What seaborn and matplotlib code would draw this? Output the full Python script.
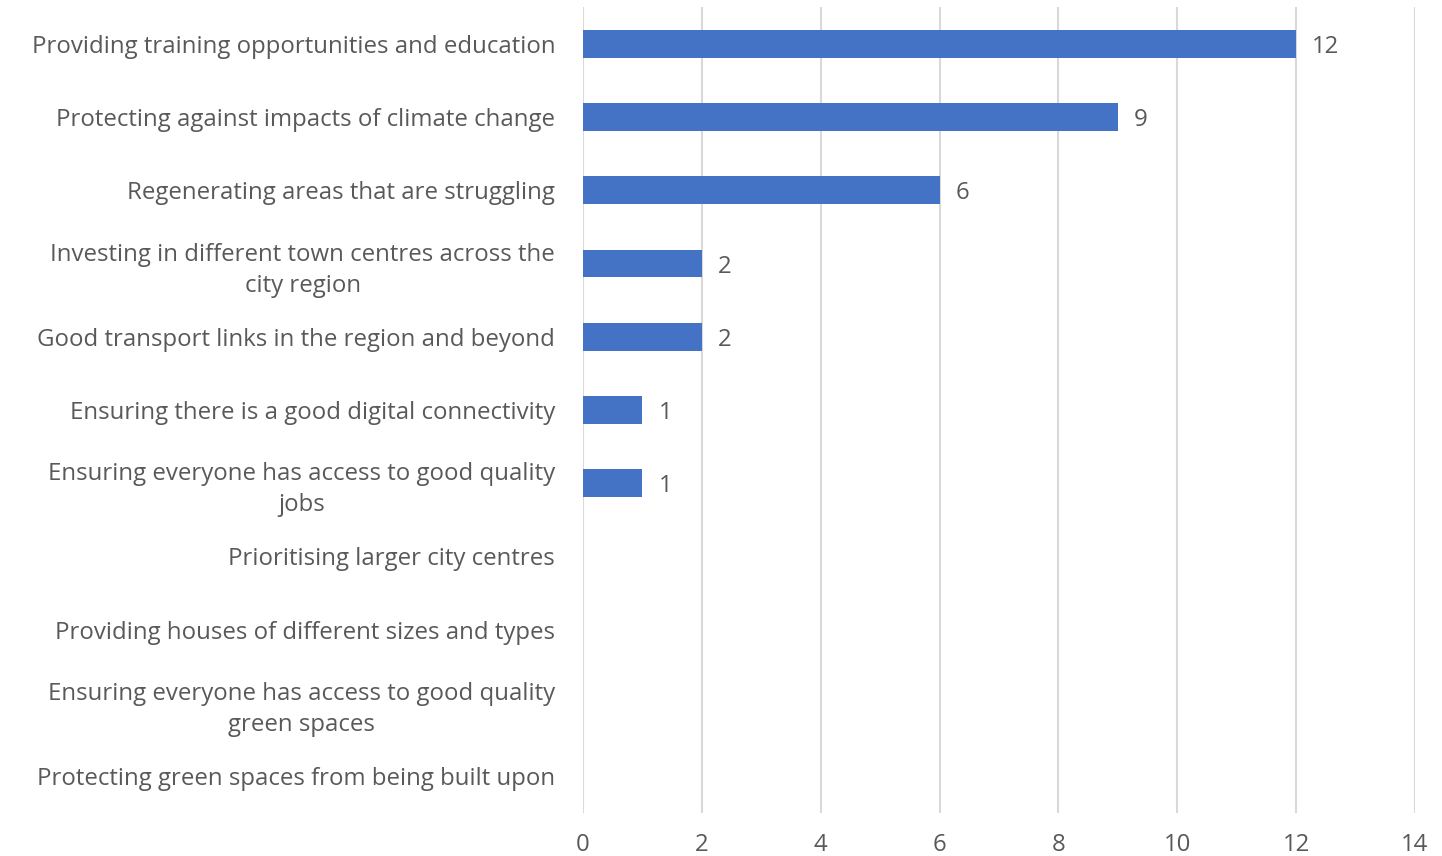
"""
Horizontal bar chart of priorities, counts per option.
"""

import pandas as pd
import seaborn as sns
import matplotlib.pyplot as plt

categories = [
    'Providing training opportunities and education',
    'Protecting against impacts of climate change',
    'Regenerating areas that are struggling',
    'Investing in different town centres across the\ncity region',
    'Good transport links in the region and beyond',
    'Ensuring there is a good digital connectivity',
    'Ensuring everyone has access to good quality\njobs',
    'Prioritising larger city centres',
    'Providing houses of different sizes and types',
    'Ensuring everyone has access to good quality\ngreen spaces',
    'Protecting green spaces from being built upon',
]
counts = [12, 9, 6, 2, 2, 1, 1, 0, 0, 0, 0]
x_ticks = [0, 2, 4, 6, 8, 10, 12, 14]

df = pd.DataFrame({'Option': categories, 'Count': counts})

sns.set_style('white')
plt.rcParams['font.family'] = ['Open Sans', 'DejaVu Sans']
text_color = '#595959'
fs = 17.3

fig = plt.figure(figsize=(14.42, 8.56), dpi=100)
ax = fig.add_axes([0.4043, 0.0507, 0.577, 0.9407])

sns.barplot(data=df, x='Count', y='Option', orient='h', color='#4472C4',
            width=0.38, saturation=1, linewidth=0, ax=ax, zorder=3)

ax.set_xlim(0, 14)
ax.set_xticks(x_ticks)
ax.grid(axis='x', color='#D9D9D9', linewidth=1.5, zorder=0)
ax.set_xlabel('')
ax.set_ylabel('')
for s in ax.spines.values():
    s.set_visible(False)
ax.tick_params(axis='both', length=0, colors=text_color, labelsize=fs)
ax.tick_params(axis='y', pad=20)
ax.tick_params(axis='x', pad=15)
for lbl in ax.get_yticklabels():
    lbl.set_multialignment('center')
    lbl.set_linespacing(1.4)

# value labels for non-zero bars
for i, v in enumerate(counts):
    if v > 0:
        ax.text(v + 0.27, i, str(v), va='center_baseline', ha='left',
                fontsize=fs, color=text_color)

fig.savefig('out.png', dpi=100)
